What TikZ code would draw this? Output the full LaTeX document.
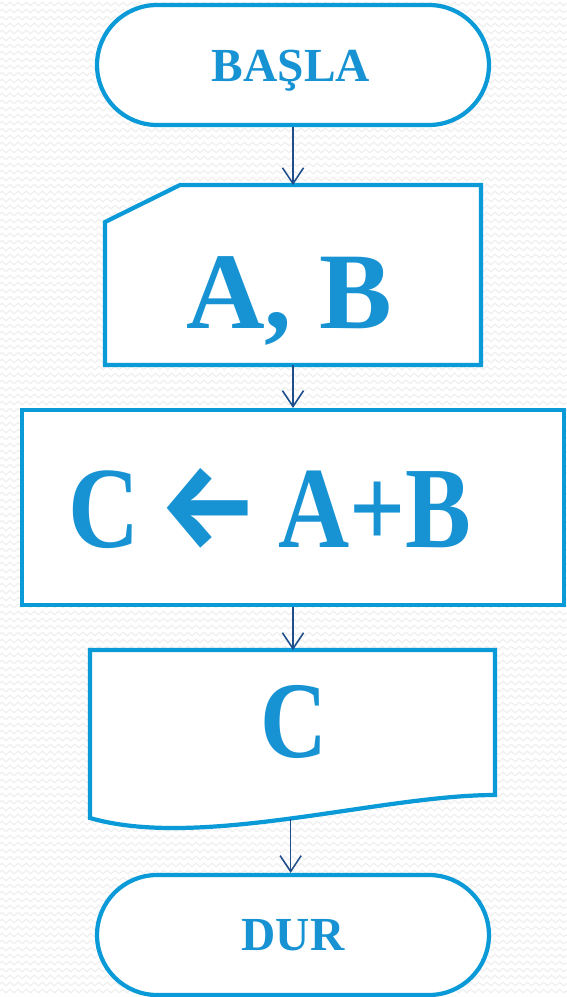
\documentclass[tikz,border=0pt]{standalone}
\usepackage{fontspec}
\setmainfont{Liberation Serif}
\newfontfamily\narrowfont{Liberation Serif}[FakeStretch=0.85]
\newfontfamily\arrowfont{Fira Sans}
\usetikzlibrary{shapes.misc,arrows.meta,decorations.pathmorphing}
\definecolor{cline}{HTML}{0A9AD7}
\definecolor{ctext}{HTML}{1793D4}
\definecolor{carrow}{HTML}{1F4E8C}
\definecolor{cbg}{HTML}{EFEFEF}

\begin{document}
\begin{tikzpicture}[x=0.02cm,y=-0.02cm,
  >={Straight Barb[length=9pt,width=12pt]},
  box/.style={line width=2.4pt,draw=cline,fill=white,inner sep=0pt},
  term/.style={box,rounded rectangle,minimum width=7.84cm,minimum height=2.4cm},
  flow/.style={->,carrow,line width=0.9pt},
  txt/.style={text=ctext,inner sep=0pt,anchor=base,font=\bfseries\fontsize{#1}{#1}\selectfont},
  wave/.style={cbg,line width=0.7pt,decorate,decoration={zigzag,segment length=4.6pt,amplitude=1pt}}]
  \useasboundingbox (0,0) rectangle (567,997);
  % background
  \foreach \r in {4,11,...,997}
    \draw[wave] (0,\r) -- (567,\r);
  \node[term] (basla) at (293,65) {};
  \node[txt=27] (baslat) at (291,82) {BAŞLA};
  % input
  \draw[box] (105,365) -- (105,222) -- (180,185) -- (481,185) -- (481,365) -- cycle;
  \coordinate (inpin) at (293,185);
  \coordinate (inpout) at (293,365);
  \node[txt=62] (ab) at (289,328) {A, B};
  % process
  \node[box,minimum width=10.84cm,minimum height=3.9cm] (proc) at (293,507.5) {};
  \node[txt=66] (calc) at (270,547) {\narrowfont\bfseries C\hspace{11pt}{\resizebox{57pt}{45pt}{\arrowfont\bfseries ←}}\hspace{11pt}A+B};
  % output
  \draw[box] (90,650) -- (90,818) .. controls (200,850) and (380,795) .. (495,795) coordinate[pos=0.5] (docout) -- (495,650) -- cycle;
  \coordinate (docin) at (293,650);
  \node[txt=62] (c) at (294,757) {\narrowfont\bfseries C};
  \node[term] (dur) at (293,935) {};
  \node[txt=27] (durt) at (293,950) {DUR};
  \draw[flow] (basla) -- (inpin);
  \draw[flow] (inpout) -- (proc);
  \draw[flow] (proc) -- (docin);
  \draw[flow] (docout) -- (docout |- dur.north);
\end{tikzpicture}
\end{document}
